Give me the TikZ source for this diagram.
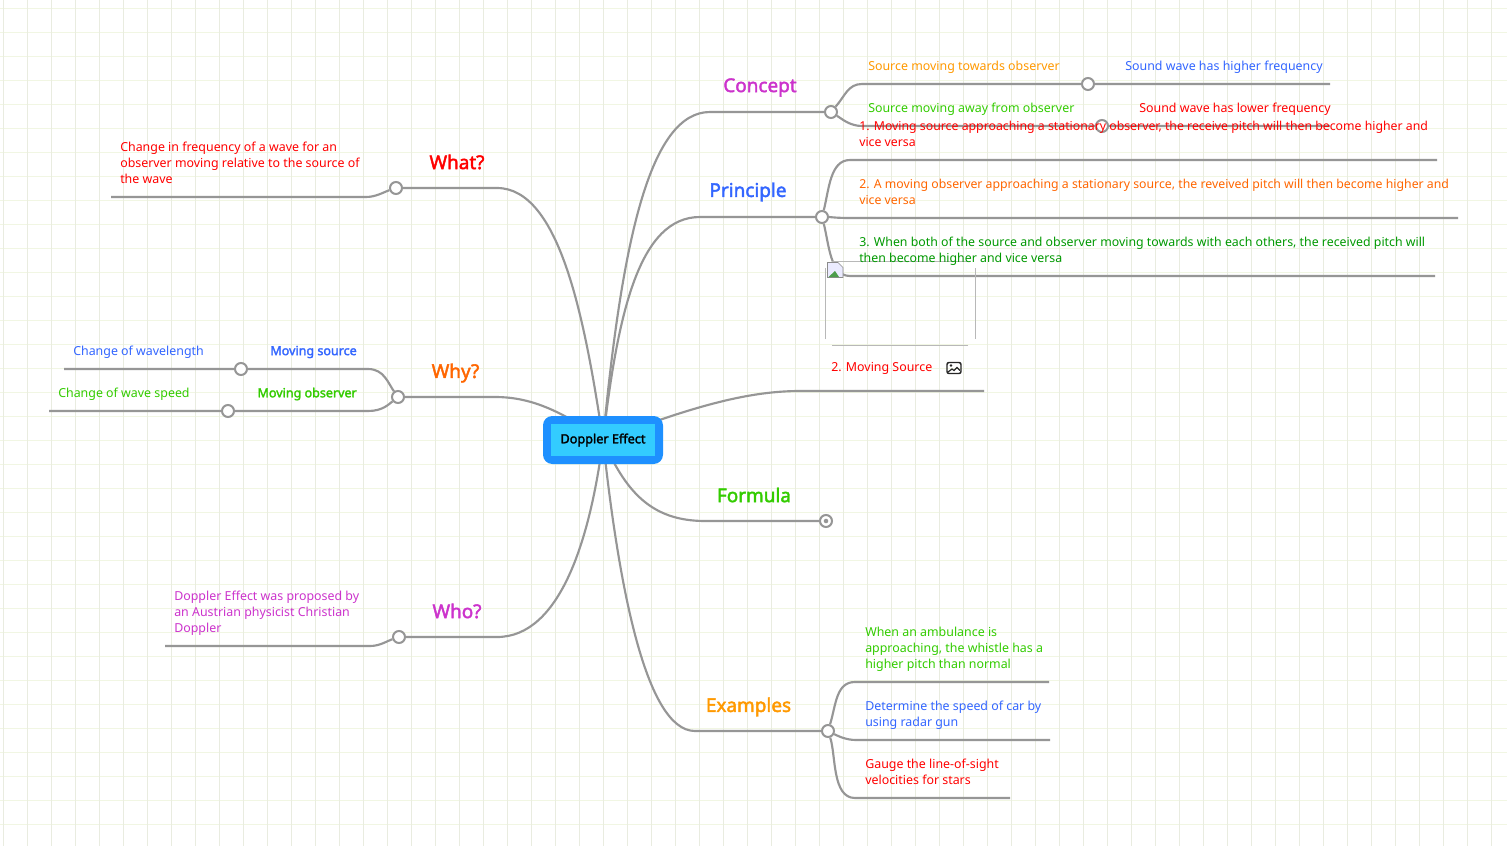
\documentclass[tikz,border=0pt]{standalone}
\usepackage{fontspec}
\setmainfont{Noto Sans}
\newfontfamily\heavyfont{Noto Sans}[FakeBold=2.2]
\usetikzlibrary{backgrounds}
\definecolor{cRed}{HTML}{FF0000}
\definecolor{cOrange}{HTML}{FF9900}
\definecolor{cDeep}{HTML}{FF6600}
\definecolor{cGreen}{HTML}{33CC00}
\definecolor{cDark}{HTML}{009900}
\definecolor{cBlue}{HTML}{3366FF}
\definecolor{cPurple}{HTML}{CC33CC}
\definecolor{cLine}{HTML}{969696}
\definecolor{cRootA}{HTML}{1E90FF}
\definecolor{cRootB}{HTML}{33CCFF}
\definecolor{gridV}{HTML}{E9ECE0}
\definecolor{gridH}{HTML}{F1F6E3}
\tikzset{
  x=0.75pt,y=-0.75pt,
  link/.style={draw=cLine,line width=1.6pt},
  knob/.style={circle,draw=cLine,fill=white,line width=1.5pt,minimum size=9pt,inner sep=0pt},
  txt/.style={anchor=west,inner sep=0pt,align=left,font=\fontsize{9.3pt}{12pt}\selectfont},
  longtxt/.style={anchor=west,inner sep=0pt,align=left,font=\fontsize{9.22pt}{12pt}\selectfont},
  head/.style={inner sep=0pt,font=\fontsize{14.2pt}{16pt}\heavyfont},
  subhead/.style={anchor=east,inner sep=0pt,font=\fontsize{9.4pt}{12pt}\heavyfont},
  frameline/.style={draw=black!28,line width=0.6pt},
}
\begin{document}
\begin{tikzpicture}
\useasboundingbox (0,0) rectangle (1507,846);
% root and knobs
\node[fill=cRootA,rounded corners=7pt,minimum width=90pt,minimum height=36pt,inner sep=0pt] (root) at (603,440) {};
\node[fill=cRootB,minimum width=78pt,minimum height=24pt,inner sep=0pt,
  font=\fontsize{9.5pt}{12pt}\heavyfont] (rootLabel) at (603,440) {Doppler Effect};
\node[knob] (kConcept) at (831,112) {};
\node[knob] (kPrinciple) at (822,217) {};
\node[knob] (kFormula) at (826,521) {};
\node[circle,fill=cLine,minimum size=3.4pt,inner sep=0pt] (kFormulaDot) at (826,521) {};
\node[knob] (kExamples) at (828,731) {};
\node[knob] (kWhat) at (396,188) {};
\node[knob] (kWhy) at (398,397) {};
\node[knob] (kWho) at (399,637) {};
\node[knob] (kTowards) at (1088,84) {};
\node[knob] (kAway) at (1102,126) {};
\node[knob] (kSource) at (241,369) {};
\node[knob] (kObserver) at (228,411) {};
% free ends
\coordinate (eTowards) at (1330,84);
\coordinate (eAway) at (1330,126);
\coordinate (eP1) at (1437,160);
\coordinate (eP2) at (1458,218);
\coordinate (eP3) at (1435,276);
\coordinate (eMoving) at (984,391);
\coordinate (eX1) at (1049,682);
\coordinate (eX2) at (1050,740);
\coordinate (eX3) at (1010,798);
\coordinate (eSource) at (64,369);
\coordinate (eObserver) at (49,411);
\coordinate (eWhat) at (111,197);
\coordinate (eWho) at (165,646);
\begin{scope}[on background layer]
  \fill[white] (0,0) rectangle (1507,846);
  \foreach \k in {0,...,35} \draw[gridH,line width=0.75pt] (0,8.5+24*\k) -- (1507,8.5+24*\k);
  \foreach \k in {0,...,62} \draw[gridV,line width=0.75pt] (3.5+24*\k,0) -- (3.5+24*\k,846);
  % main branches
  \draw[link] (root.center) .. controls (622,240) and (650,112) .. (710,112) -- (kConcept);
  \draw[link] (root.center) .. controls (618,310) and (640,217) .. (700,217) -- (kPrinciple);
  \draw[link] (root.center) .. controls (680,412) and (740,391) .. (800,391) -- (eMoving);
  \draw[link] (root.center) .. controls (625,490) and (650,521) .. (705,521) -- (kFormula);
  \draw[link] (root.center) .. controls (618,580) and (645,731) .. (695,731) -- (kExamples);
  \draw[link] (root.center) .. controls (585,320) and (560,188) .. (497,188) -- (kWhat);
  \draw[link] (root.center) .. controls (560,410) and (530,397) .. (495,397) -- (kWhy);
  \draw[link] (root.center) .. controls (590,540) and (560,637) .. (497,637) -- (kWho);
  % concept children
  \draw[link] (kConcept) .. controls (845,96) and (848,84) .. (862,84) -- (kTowards) -- (eTowards);
  \draw[link] (kConcept) .. controls (842,119) and (850,126) .. (862,126) -- (kAway) -- (eAway);
  % principle children
  \draw[link] (kPrinciple) .. controls (829,190) and (830,160) .. (850,160) -- (eP1);
  \draw[link] (kPrinciple) .. controls (830,217) and (836,218) .. (850,218) -- (eP2);
  \draw[link] (kPrinciple) .. controls (829,244) and (830,276) .. (850,276) -- (eP3);
  % examples children
  \draw[link] (kExamples) .. controls (836,705) and (836,682) .. (855,682) -- (eX1);
  \draw[link] (kExamples) .. controls (838,736) and (846,740) .. (856,740) -- (eX2);
  \draw[link] (kExamples) .. controls (836,755) and (832,798) .. (855,798) -- (eX3);
  % why children
  \draw[link] (kWhy) .. controls (388,383) and (384,369) .. (368,369) -- (kSource) -- (eSource);
  \draw[link] (kWhy) .. controls (388,405) and (382,411) .. (368,411) -- (kObserver) -- (eObserver);
  % what, who children
  \draw[link] (kWhat) .. controls (384,192) and (376,197) .. (366,197) -- (eWhat);
  \draw[link] (kWho) .. controls (387,641) and (380,646) .. (370,646) -- (eWho);
\end{scope}
% image frame
\draw[frameline] (832,261) -- (968,261) (975,268) -- (975,339) (968,345.5) -- (832,345.5) (825.5,339) -- (825.5,268);
\draw[draw=black!45,fill=blue!8,line width=0.5pt] (827.5,262.5) -- (838,262.5) -- (843,267.5) -- (843,277.5) -- (827.5,277.5) -- cycle;
\fill[green!45!black!70] (828.5,277) -- (835,271) -- (839,277) -- cycle;
\draw[black!85,line width=1.1pt,rounded corners=1.5pt] (947,362.5) rectangle (961,373.5);
\fill[black!85] (951,365.5) circle (1.4);
\draw[black!85,line width=0.9pt] (948,372) -- (952,369) -- (954,370.5) -- (957,367.5) -- (960,370.5);
% headings
\node[head,text=cPurple] (tConcept) at (760,87.5) {Concept};
\node[head,text=cBlue] (tPrinciple) at (748,192) {Principle};
\node[head,text=cGreen] (tFormula) at (754,495) {Formula};
\node[head,text=cOrange] (tExamples) at (748.5,707) {Examples};
\node[head,text=cRed] (tWhat) at (457,162) {What?};
\node[head,text=cDeep] (tWhy) at (455.5,373) {Why?};
\node[head,text=cPurple] (tWho) at (457,611) {Who?};
% texts
\node[txt,text=cOrange] (a1) at (868,67.5) {Source moving towards observer};
\node[txt,text=cBlue] (a2) at (1125,67.5) {Sound wave has higher frequency};
\node[txt,text=cGreen] (a3) at (868,109.5) {Source moving away from observer};
\node[txt,text=cRed] (a4) at (1139,109.5) {Sound wave has lower frequency};
\node[longtxt,text=cRed] (b1) at (859,133.5) {1. Moving source approaching a stationary observer, the receive pitch will then become higher and\\vice versa};
\node[longtxt,text=cDeep] (b2) at (859,191.5) {2. A moving observer approaching a stationary source, the reveived pitch will then become higher and\\vice versa};
\node[longtxt,text=cDark,font=\fontsize{9.26pt}{12pt}\selectfont] (b3) at (859,251.5) {3. When both of the source and observer moving towards with each others, the received pitch will\\then become higher and vice versa};
\node[txt,text=cRed] (c1) at (831,368) {2. Moving Source};
\node[txt,text=cGreen] (d1) at (865,649.5) {When an ambulance is\\approaching, the whistle has a\\higher pitch than normal};
\node[txt,text=cBlue] (d2) at (865,715.5) {Determine the speed of car by\\using radar gun};
\node[txt,text=cRed] (d3) at (865,771.5) {Gauge the line-of-sight\\velocities for stars};
\node[txt,text=cRed] (e1) at (120,162.6) {Change in frequency of a wave for an\\observer moving relative to the source of\\the wave};
\node[txt,text=cPurple] (e2) at (174,613) {Doppler Effect was proposed by\\an Austrian physicist Christian\\Doppler};
\node[subhead,text=cBlue] (f1) at (357,352) {Moving source};
\node[subhead,text=cGreen] (f2) at (357,394) {Moving observer};
\node[txt,text=cBlue] (f3) at (73,352.5) {Change of wavelength};
\node[txt,text=cGreen] (f4) at (58,394.5) {Change of wave speed};
\end{tikzpicture}
\end{document}
